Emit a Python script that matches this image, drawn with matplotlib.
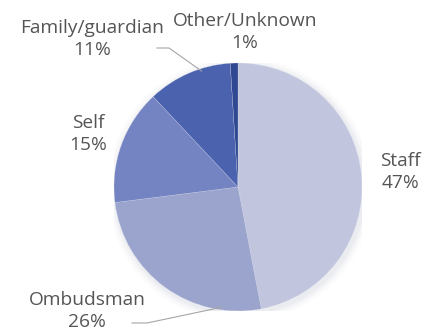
import matplotlib
matplotlib.use("Agg")
import matplotlib.pyplot as plt
import numpy as np

categories = ["Staff", "Ombudsman", "Self", "Family/guardian", "Other/Unknown"]
values = [47, 26, 15, 11, 1]
colors = ["#c1c6de", "#9ba4cc", "#7484c2", "#4b62ae", "#2f4892"]

# label text positions in figure pixels (x from left, y from top)
label_pos = [(400, 172), (87, 311), (88, 134), (92, 39), (245, 32)]

W, H = 433, 334
fig = plt.figure(figsize=(W / 100, H / 100), dpi=100)
cx, cy, r = 238, 187, 124
ax = fig.add_axes([(cx - r) / W, 1 - (cy + r) / H, 2 * r / W, 2 * r / H])

# soft shadow
for k, a in enumerate(np.linspace(0.05, 0.01, 6)):
    circ = plt.Circle((0.015, -0.02), 1.0 + 0.012 * (k + 1), color="#9aa0b8",
                      alpha=a, zorder=0, lw=0)
    ax.add_patch(circ)

wedges, _ = ax.pie(values, colors=colors, startangle=90, counterclock=False,
                   radius=1.0, wedgeprops=dict(edgecolor="#dfe3f0", linewidth=0.15))
for w in wedges:
    w.set_zorder(2)
ax.set_xlim(-1, 1)
ax.set_ylim(-1, 1)
ax.set_aspect("equal")
ax.axis("off")

font = ["Open Sans", "DejaVu Sans"]
tc = "#555555"
for i, (cat, v) in enumerate(zip(categories, values)):
    px, py = label_pos[i]
    fig.text(px / W, 1 - py / H, f"{cat}\n{v}%", ha="center", va="center",
             fontsize=13.8, color=tc, family=font, linespacing=1.22)

def wedge_point(i, frac_r=0.93, t=0.5):
    w = wedges[i]
    ang = np.deg2rad(w.theta1 + t * (w.theta2 - w.theta1))
    return frac_r * np.cos(ang), frac_r * np.sin(ang)

def px2data(px, py):
    disp = fig.transFigure.transform((px / W, 1 - py / H))
    return ax.transData.inverted().transform(disp)

# Family/guardian leader
x0, y0 = px2data(157, 48)
x1, y1 = px2data(169, 48)
x2, y2 = wedge_point(3, 0.98, 0.35)
ax.plot([x0, x1, x2], [y0, y1, y2], color="#a6a6a6", lw=0.8, zorder=3, clip_on=False)
# Ombudsman leader
x0, y0 = px2data(132, 323)
x1, y1 = px2data(147, 323)
x2, y2 = wedge_point(1, 0.98, 0.80)
ax.plot([x0, x1, x2], [y0, y1, y2], color="#a6a6a6", lw=0.8, zorder=3, clip_on=False)

fig.savefig("out.png", dpi=100)
